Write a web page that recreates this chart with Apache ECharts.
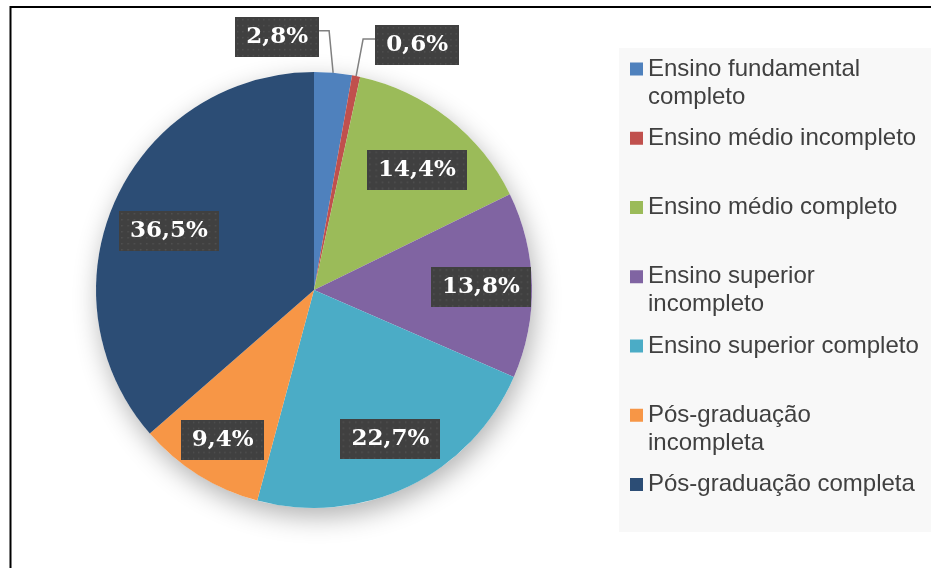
<!DOCTYPE html>
<html>
<head>
<meta charset="utf-8">
<style>
  html, body { margin: 0; padding: 0; background: #fff; }
  #chart { width: 931px; height: 568px; }
</style>
<script src="https://cdn.jsdelivr.net/npm/echarts@6/dist/echarts.min.js"></script>
</head>
<body>
<div id="chart"></div>
<script>
  var categories = ['Ensino fundamental completo', 'Ensino médio incompleto', 'Ensino médio completo',
    'Ensino superior incompleto', 'Ensino superior completo', 'Pós-graduação incompleta', 'Pós-graduação completa'];
  var percents = [2.8, 0.6, 14.4, 13.8, 22.7, 9.4, 36.5];
  var colors = ['#4f81bd', '#c0504d', '#9bbb59', '#8064a2', '#4bacc6', '#f79646', '#2c4d75'];
  // legend text as wrapped in the original
  var legendLabels = ['Ensino fundamental\ncompleto', 'Ensino médio incompleto', 'Ensino médio completo',
    'Ensino superior\nincompleto', 'Ensino superior completo', 'Pós-graduação\nincompleta', 'Pós-graduação completa'];

  // small slices get their label outside, moved relative to the slice edge
  var outsideShift = { 0: [-56, -36], 1: [61, -31] };
  // small nudges of the inside labels (excel "best fit")
  var labelNudge = [[0, 0], [0, 0], [0, 11], [0, 1], [4, -1], [-3, 8], [7, 10]];

  var chart = echarts.init(document.getElementById('chart'));

  function fmt(p) {
    return p.value.toFixed(1).replace('.', ',') + '%';
  }

  // dotted dark texture for the label boxes
  var tex = document.createElement('canvas');
  tex.width = 96;
  tex.height = 40;
  var g = tex.getContext('2d');
  g.fillStyle = '#404040';
  g.fillRect(0, 0, tex.width, tex.height);
  g.fillStyle = '#525252';
  for (var yy = 2; yy < tex.height; yy += 6) {
    for (var xx = 2; xx < tex.width; xx += 6) {
      g.fillRect(xx, yy, 1.5, 1.5);
    }
  }

  var boxLabel = {
    color: '#fff',
    fontFamily: 'DejaVu Serif',
    fontWeight: 'bold',
    fontSize: 23,
    lineHeight: 23,
    backgroundColor: { image: tex },
    padding: [9, 11, 8, 11],
    shadowColor: 'rgba(0,0,0,0.5)',
    shadowBlur: 5,
    shadowOffsetX: 2,
    shadowOffsetY: 3,
    formatter: fmt
  };

  var mainData = categories.map(function (name, i) {
    var small = percents[i] < 3;
    return {
      name: name,
      value: percents[i],
      itemStyle: { color: colors[i] },
      label: { show: small },
      labelLine: { show: small }
    };
  });

  var labelData = categories.map(function (name, i) {
    return {
      name: name,
      value: percents[i],
      label: { show: percents[i] >= 3 }
    };
  });

  var legends = categories.map(function (name, i) {
    var twoLines = legendLabels[i].indexOf('\n') >= 0;
    var iconMid = 69 + i * 69.25;
    return {
      data: [name],
      orient: 'vertical',
      left: 630,
      top: iconMid - 14 - (twoLines ? 28 : 0),
      padding: 0,
      itemWidth: 13,
      itemHeight: 13,
      icon: 'rect',
      selectedMode: false,
      // a blank first line keeps the icon level with the first text line of a wrapped entry
      formatter: function () { return twoLines ? ' \n' + legendLabels[i] : legendLabels[i]; },
      textStyle: {
        color: '#404040',
        fontFamily: 'Liberation Sans',
        fontSize: 24,
        lineHeight: 28
      }
    };
  });

  var option = {
    backgroundColor: '#fff',
    animation: false,
    legend: legends,
    graphic: [
      {
        type: 'rect', z: -10,
        shape: { x: 619, y: 48, width: 330, height: 484 },
        style: { fill: '#f8f8f8' }
      },
      {
        type: 'rect', z: -10,
        shape: { x: 10.5, y: 7, width: 1000, height: 1000 },
        style: { fill: 'none', stroke: '#000', lineWidth: 2 }
      }
    ],
    series: [
      {
        name: 'main',
        type: 'pie',
        z: 2,
        center: [314, 290],
        radius: 218,
        startAngle: 90,
        silent: true,
        data: mainData,
        itemStyle: { borderWidth: 0 },
        label: Object.assign({ position: 'outside' }, boxLabel),
        labelLine: {
          length: 10,
          length2: 10,
          lineStyle: { color: '#808080', width: 1.5 }
        },
        labelLayout: function (p) {
          var s = outsideShift[p.dataIndex];
          if (!s || !p.labelLinePoints) return {};
          var a = p.labelLinePoints[0];
          var cx = a[0] + s[0], cy = a[1] + s[1];
          var w = p.labelRect.width;
          var edgeX = s[0] < 0 ? cx + w / 2 : cx - w / 2;
          var bendX = s[0] < 0 ? a[0] - 4 : a[0] + 7;
          return {
            x: cx, y: cy, align: 'center', verticalAlign: 'middle',
            labelLinePoints: [[a[0], a[1]], [bendX, cy - 6], [edgeX, cy - 6]]
          };
        }
      },
      {
        name: 'shadow',
        type: 'pie',
        z: 1,
        center: [314, 290],
        radius: 218,
        silent: true,
        label: { show: false },
        data: [{ value: 100, name: '' }],
        itemStyle: {
          color: '#fff',
          shadowColor: 'rgba(0,0,0,0.3)',
          shadowBlur: 26,
          shadowOffsetX: 3,
          shadowOffsetY: 9
        }
      },
      {
        name: 'labels',
        type: 'pie',
        z: 3,
        center: [314, 290],
        radius: [110, 218],
        startAngle: 90,
        silent: true,
        data: labelData,
        itemStyle: { color: 'rgba(0,0,0,0)' },
        labelLine: { show: false },
        label: Object.assign({ position: 'inside' }, boxLabel),
        labelLayout: function (p) {
          var n = labelNudge[p.dataIndex];
          return { dx: n[0], dy: n[1] };
        }
      }
    ]
  };

  chart.setOption(option);
</script>
</body>
</html>
